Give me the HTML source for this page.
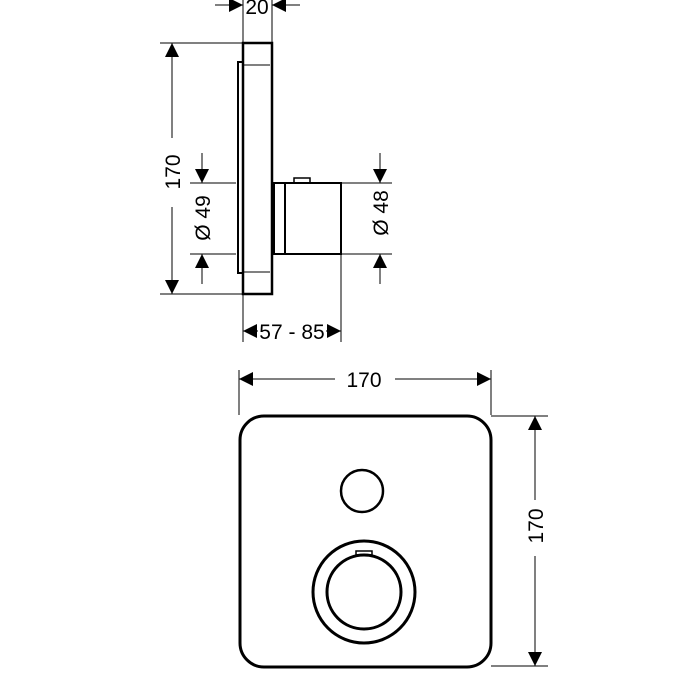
<!DOCTYPE html>
<html><head><style>body{margin:0;background:#fff}svg{display:block}text{font-family:"Liberation Sans",sans-serif;fill:#000}</style></head><body>
<svg width="674" height="674" viewBox="0 0 674 674">
<defs>
<marker id="a" viewBox="0 0 10 10" refX="10" refY="5" markerWidth="17" markerHeight="14" markerUnits="userSpaceOnUse" orient="auto"><path d="M0,0L10,5L0,10z"/></marker>
</defs>
<g stroke="#000" fill="none">
<path d="M243,43H272V294H243Z" stroke-width="2.5"/>
<path d="M238,62H243V273H238Z" stroke-width="2"/>
<path d="M243,65H270M243,272H270" stroke-width="1"/>
<path d="M274,183H341V254H274Z" stroke-width="2"/>
<path d="M285,183V254" stroke-width="2"/>
<path d="M294,178H310V183H294Z" stroke-width="1.5"/>
<g stroke-width="1">
<path d="M243,0V43M272,0V43"/>
<path d="M160,43H243M160,294H243"/>
<path d="M190,183H236M190,254H236"/>
<path d="M341,183H392M341,254H392"/>
<path d="M243,294V342M341,254V342"/>
<path d="M215,5H243" marker-end="url(#a)"/>
<path d="M300,5H272" marker-end="url(#a)"/>
<path d="M172,138V43" marker-end="url(#a)"/>
<path d="M172,207V294" marker-end="url(#a)"/>
<path d="M202,153V183" marker-end="url(#a)"/>
<path d="M202,284V254" marker-end="url(#a)"/>
<path d="M380,153V183" marker-end="url(#a)"/>
<path d="M380,284V254" marker-end="url(#a)"/>
<path d="M258,331H243" marker-end="url(#a)"/>
<path d="M326,331H341" marker-end="url(#a)"/>
<path d="M239,370V415M491,370V415M491,416H548M491,666H548"/>
<path d="M335,379H239" marker-end="url(#a)"/>
<path d="M395,379H491" marker-end="url(#a)"/>
<path d="M535,500V416" marker-end="url(#a)"/>
<path d="M535,556V666" marker-end="url(#a)"/>
</g>
<rect x="240" y="416" width="251" height="251" rx="24" stroke-width="3"/>
<circle cx="362" cy="491" r="21" stroke-width="2.5"/>
<circle cx="364" cy="592" r="51" stroke-width="3"/>
<circle cx="364" cy="592" r="37" stroke-width="3"/>
<path d="M356,551H372V555H356Z" stroke-width="1.5"/>
</g>
<g font-size="21">
<text x="257" y="14" text-anchor="middle">20</text>
<text transform="translate(180,172) rotate(-90)" text-anchor="middle">170</text>
<text transform="translate(210,218) rotate(-90)" text-anchor="middle">Ø 49</text>
<text transform="translate(388,213) rotate(-90)" text-anchor="middle">Ø 48</text>
<text x="292" y="339" text-anchor="middle">57 - 85</text>
<text x="364" y="387" text-anchor="middle">170</text>
<text transform="translate(543,526) rotate(-90)" text-anchor="middle">170</text>
</g>
</svg>
</body></html>
